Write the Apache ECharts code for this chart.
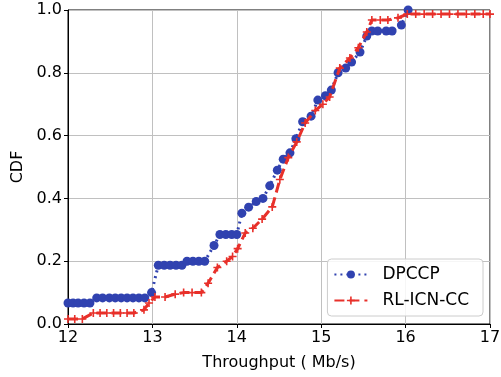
<!DOCTYPE html>
<html>
<head>
<meta charset="utf-8">
<script src="https://cdn.jsdelivr.net/npm/echarts@6/dist/echarts.min.js"></script>
<style>
  html, body { margin: 0; padding: 0; background: #fff; }
  #main { width: 501px; height: 377px; }
</style>
</head>
<body>
<div id="main"></div>
<script>
// throughput (Mb/s) and CDF values
var dpccpX = [12.00, 12.06, 12.12, 12.19, 12.26, 12.34, 12.41, 12.49, 12.56, 12.63, 12.70, 12.77, 12.84, 12.91,
    12.99, 13.07, 13.14, 13.21, 13.28, 13.35, 13.41, 13.48, 13.55, 13.62, 13.73, 13.80, 13.87, 13.94, 14.00,
    14.06, 14.14, 14.23, 14.31, 14.39, 14.48, 14.55, 14.63, 14.70, 14.78, 14.88, 14.96, 15.05, 15.12, 15.20,
    15.29, 15.36, 15.46, 15.54, 15.60, 15.67, 15.77, 15.84, 15.95, 16.03];
var dpccpY = [0.067, 0.067, 0.067, 0.067, 0.067, 0.083, 0.083, 0.083, 0.083, 0.083, 0.083, 0.083, 0.083, 0.083,
    0.100, 0.187, 0.187, 0.187, 0.187, 0.187, 0.200, 0.200, 0.200, 0.200, 0.250, 0.285, 0.285, 0.285, 0.285,
    0.353, 0.372, 0.390, 0.400, 0.440, 0.490, 0.525, 0.545, 0.590, 0.644, 0.662, 0.713, 0.727, 0.745, 0.800,
    0.815, 0.834, 0.866, 0.917, 0.933, 0.933, 0.933, 0.933, 0.952, 1.000];

var rlX = [12.00, 12.08, 12.17, 12.30, 12.38, 12.46, 12.54, 12.62, 12.70, 12.78, 12.90, 12.96, 13.03, 13.15,
    13.27, 13.37, 13.47, 13.58, 13.66, 13.77, 13.88, 13.95, 14.01, 14.10, 14.19, 14.30, 14.42, 14.51, 14.61,
    14.71, 14.81, 14.93, 15.02, 15.10, 15.22, 15.34, 15.44, 15.54, 15.60, 15.70, 15.79, 15.91, 16.02, 16.12,
    16.22, 16.32, 16.42, 16.52, 16.62, 16.72, 16.82, 16.92, 17.00];
var rlY = [0.016, 0.016, 0.016, 0.035, 0.035, 0.035, 0.035, 0.035, 0.035, 0.035, 0.045, 0.067, 0.086, 0.086,
    0.095, 0.100, 0.100, 0.100, 0.130, 0.180, 0.200, 0.215, 0.240, 0.290, 0.305, 0.334, 0.373, 0.460, 0.530,
    0.580, 0.640, 0.680, 0.700, 0.723, 0.815, 0.847, 0.880, 0.930, 0.968, 0.968, 0.968, 0.975, 0.987, 0.987,
    0.987, 0.987, 0.987, 0.987, 0.987, 0.987, 0.987, 0.987, 0.987];

var xTicks = [12, 13, 14, 15, 16, 17];

function pairs(xs, ys) {
    var out = [];
    for (var i = 0; i < xs.length; i++) out.push([xs[i], ys[i]]);
    return out;
}

var font = 'DejaVu Sans';
var plusPath = 'path://M0,4h10v2h-10z M4,0h2v10h-2z';

var chart = echarts.init(document.getElementById('main'), null, { renderer: 'canvas' });
var option = {
    animation: false,
    backgroundColor: '#fff',
    grid: { left: 68, right: 11, top: 10, bottom: 53, outerBoundsMode: 'none', containLabel: false,
        show: true, borderColor: '#000', borderWidth: 1 },
    legend: {
        orient: 'vertical',
        right: 18,
        top: 259,
        padding: [7, 14, 7, 6],
        itemWidth: 33,
        itemHeight: 10,
        itemGap: 9,
        borderColor: '#ccc',
        borderWidth: 1,
        borderRadius: 4,
        backgroundColor: 'rgba(255,255,255,0.85)',
        textStyle: { fontFamily: font, fontSize: 17, color: '#000', padding: [0, 0, 0, 10] },
        data: ['DPCCP', 'RL-ICN-CC']
    },
    xAxis: {
        type: 'value',
        min: 12, max: 17, interval: 1,
        name: 'Throughput ( Mb/s)',
        nameLocation: 'middle',
        nameGap: 31,
        nameTextStyle: { fontFamily: font, fontSize: 16, color: '#000' },
        axisLine: { show: true, lineStyle: { color: '#000' } },
        axisTick: { show: true, length: 4, inside: false, lineStyle: { color: '#000' } },
        axisLabel: { fontFamily: font, fontSize: 16, color: '#000', margin: 6,
            formatter: function (v) { return xTicks.indexOf(v) >= 0 ? String(v) : ''; } },
        splitLine: { show: true, lineStyle: { color: '#c0c0c0', width: 1 } }
    },
    yAxis: {
        type: 'value',
        min: 0, max: 1, interval: 0.2,
        name: 'CDF',
        nameLocation: 'middle',
        nameGap: 42,
        nameRotate: 90,
        nameTextStyle: { fontFamily: font, fontSize: 16, color: '#000' },
        axisLine: { show: true, lineStyle: { color: '#000' } },
        axisTick: { show: true, length: 4, lineStyle: { color: '#000' } },
        axisLabel: { fontFamily: font, fontSize: 16, color: '#000', margin: 6,
            formatter: function (v) { return v.toFixed(1); } },
        splitLine: { show: true, lineStyle: { color: '#c0c0c0', width: 1 } }
    },
    series: [
        {
            name: 'DPCCP',
            type: 'line',
            data: pairs(dpccpX, dpccpY),
            symbol: 'circle',
            symbolSize: 9,
            showAllSymbol: true,
            itemStyle: { color: '#3042b0' },
            lineStyle: { color: '#3042b0', width: 3, type: [2, 4] },
            z: 3
        },
        {
            name: 'RL-ICN-CC',
            type: 'line',
            data: pairs(rlX, rlY),
            symbol: plusPath,
            symbolSize: 8,
            showAllSymbol: true,
            itemStyle: { color: '#e8302a' },
            lineStyle: { color: '#e8302a', width: 3, type: [10, 5] },
            z: 4
        }
    ]
};
chart.setOption(option);
</script>
</body>
</html>
